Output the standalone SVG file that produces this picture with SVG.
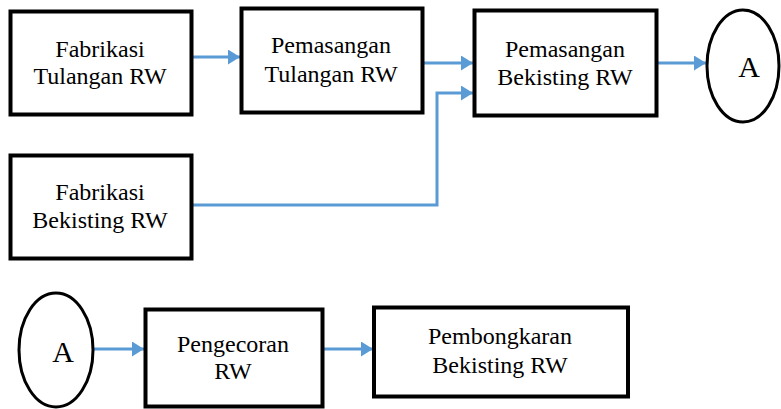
<svg xmlns="http://www.w3.org/2000/svg" width="781" height="409" viewBox="0 0 781 409">
<defs>
<style>
.box{fill:#fff;stroke:#000;stroke-width:4}
.ell{fill:#fff;stroke:#000;stroke-width:3}
.c{fill:none;stroke:#5B9BD5;stroke-width:3;marker-end:url(#ah)}
</style>
<marker id="ah" viewBox="0 0 12 15" refX="12" refY="7.5" markerUnits="userSpaceOnUse" markerWidth="12" markerHeight="15" orient="auto">
<path d="M0,0 L12,7.5 L0,15 Z" fill="#5B9BD5"/>
</marker>
</defs>
<rect width="781" height="409" fill="#fff"/>
<g id="connectors">
<path class="c" d="M192,57 H240"/>
<path class="c" d="M423,63 H473"/>
<path class="c" d="M192,205 H437 V93 H473"/>
<path class="c" d="M657,63 H706"/>
<path class="c" d="M94,349 H144"/>
<path class="c" d="M323,349 H373"/>
</g>
<g font-family="'Liberation Serif', 'DejaVu Serif', serif" font-size="24" fill="#000" text-anchor="middle">
<g id="fabrikasi-tulangan">
<rect class="box" x="10.5" y="11.5" width="181" height="103"/>
<text x="100" y="57">Fabrikasi</text>
<text x="100" y="84">Tulangan RW</text>
</g>
<g id="pemasangan-tulangan">
<rect class="box" x="241.5" y="8.5" width="181" height="104"/>
<text x="331" y="53">Pemasangan</text>
<text x="331" y="82">Tulangan RW</text>
</g>
<g id="pemasangan-bekisting">
<rect class="box" x="474.5" y="10.5" width="182" height="105"/>
<text x="565" y="57">Pemasangan</text>
<text x="565" y="85">Bekisting RW</text>
</g>
<g id="connector-a-top">
<ellipse class="ell" cx="743" cy="66" rx="36" ry="56"/>
<text x="749" y="77" font-size="30">A</text>
</g>
<g id="fabrikasi-bekisting">
<rect class="box" x="10.5" y="155.5" width="181" height="103"/>
<text x="100" y="200">Fabrikasi</text>
<text x="100" y="228">Bekisting RW</text>
</g>
<g id="connector-a-bottom">
<ellipse class="ell" cx="56" cy="350" rx="37" ry="57"/>
<text x="63" y="362" font-size="30">A</text>
</g>
<g id="pengecoran">
<rect class="box" x="145.5" y="309.5" width="177" height="97"/>
<text x="233" y="352">Pengecoran</text>
<text x="233" y="379">RW</text>
</g>
<g id="pembongkaran">
<rect class="box" x="374" y="307.5" width="254" height="89"/>
<text x="500" y="344">Pembongkaran</text>
<text x="500" y="373">Bekisting RW</text>
</g>
</g>
</svg>
